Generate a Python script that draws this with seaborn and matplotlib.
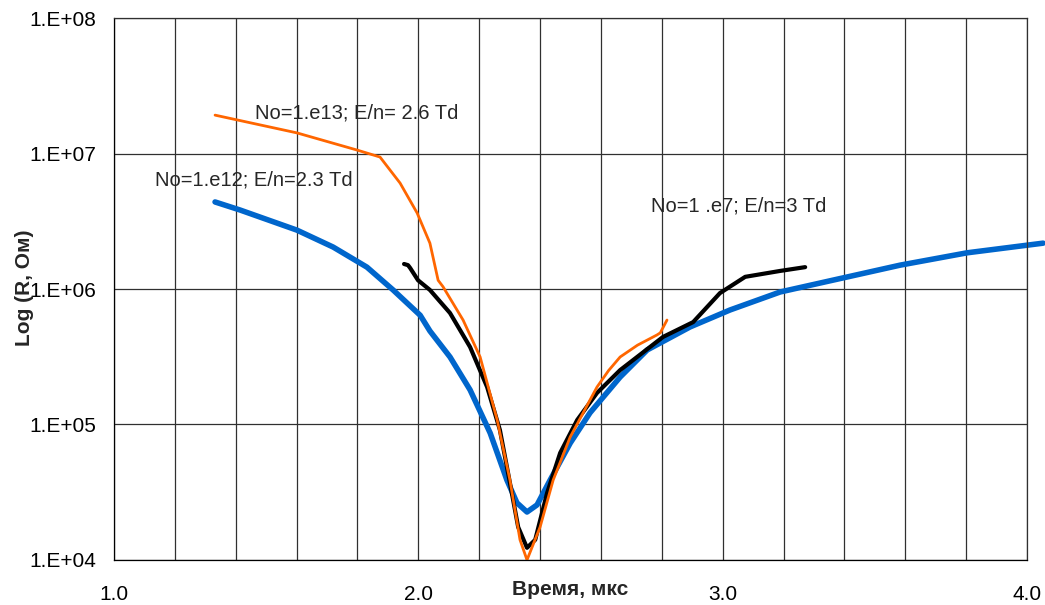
import numpy as np
import pandas as pd
import matplotlib
matplotlib.use("Agg")
import matplotlib.pyplot as plt
import matplotlib.ticker as mticker
import seaborn as sns

# --- data (time in мкс, resistance in Ом) ---
t_blue = [1.332, 1.414, 1.601, 1.720, 1.831, 1.917, 2.006, 2.038, 2.104, 2.170, 2.236,
          2.291, 2.324, 2.357, 2.390, 2.433, 2.499, 2.564, 2.663, 2.752, 2.893, 3.024,
          3.189, 3.353, 3.583, 3.803, 4.053]
r_blue = [4.39e6, 3.83e6, 2.72e6, 2.04e6, 1.45e6, 9.84e5, 6.40e5, 4.90e5, 3.15e5, 1.80e5, 8.65e4,
          3.89e4, 2.64e4, 2.26e4, 2.55e4, 3.89e4, 7.29e4, 1.22e5, 2.24e5, 3.55e5, 5.25e5, 7.00e5,
          9.51e5, 1.15e6, 1.50e6, 1.85e6, 2.18e6]

t_orange = [1.332, 1.601, 1.799, 1.874, 1.940, 1.996, 2.038, 2.065, 2.081, 2.147, 2.203,
            2.259, 2.301, 2.334, 2.357, 2.400, 2.443, 2.499, 2.587, 2.625, 2.663, 2.720,
            2.784, 2.795, 2.817]
r_orange = [1.92e7, 1.42e7, 1.06e7, 9.42e6, 6.05e6, 3.64e6, 2.18e6, 1.16e6, 1.04e6, 5.90e5, 3.15e5,
            1.08e5, 3.89e4, 1.41e4, 1.00e4, 1.75e4, 3.89e4, 8.09e4, 1.89e5, 2.50e5, 3.15e5, 3.85e5,
            4.58e5, 4.75e5, 5.90e5]

t_black = [1.953, 1.966, 1.973, 1.999, 2.038, 2.104, 2.170, 2.226, 2.268, 2.301, 2.328,
           2.357, 2.384, 2.423, 2.466, 2.522, 2.587, 2.663, 2.804, 2.903, 2.991, 3.074,
           3.189, 3.271]
r_black = [1.53e6, 1.50e6, 1.43e6, 1.16e6, 9.84e5, 6.65e5, 3.73e5, 1.89e5, 9.10e4, 3.70e4, 1.75e4,
           1.23e4, 1.41e4, 3.12e4, 6.17e4, 1.08e5, 1.71e5, 2.52e5, 4.43e5, 5.70e5, 9.33e5, 1.23e6,
           1.36e6, 1.45e6]

labels = ["No=1.e12; E/n=2.3 Td", "No=1.e13; E/n= 2.6 Td", "No=1 .e7; E/n=3 Td"]
x_major = [1.0, 2.0, 3.0, 4.0]
y_major = [1e4, 1e5, 1e6, 1e7, 1e8]

sns.set_style("white")
plt.rcParams['font.family'] = ['Liberation Sans', 'DejaVu Sans']

fig = plt.figure(figsize=(10.45, 6.05), dpi=100)
ax = fig.add_axes([0.1091, 0.0744, 0.8737, 0.8958])

blue = pd.DataFrame({"t": t_blue, "r": r_blue})
orange = pd.DataFrame({"t": t_orange, "r": r_orange})
black = pd.DataFrame({"t": t_black, "r": r_black})

sns.lineplot(data=blue, x="t", y="r", ax=ax, color="#0066CC", lw=4.0, sort=False)
ax.lines[-1].set_clip_on(False)
ax.lines[-1].set_solid_joinstyle("round")
sns.lineplot(data=black, x="t", y="r", ax=ax, color="black", lw=3.0, sort=False)
ax.lines[-1].set_solid_joinstyle("round")
sns.lineplot(data=orange, x="t", y="r", ax=ax, color="#FF6600", lw=2.0, sort=False)
ax.lines[-1].set_solid_joinstyle("round")

ax.set_yscale("log")
ax.set_xlim(1.0, 4.0)
ax.set_ylim(1e4, 1e8)

ax.xaxis.set_major_locator(mticker.FixedLocator(x_major))
ax.xaxis.set_minor_locator(mticker.MultipleLocator(0.2))
ax.xaxis.set_major_formatter(mticker.FormatStrFormatter("%.1f"))
ax.yaxis.set_major_locator(mticker.FixedLocator(y_major))
ax.yaxis.set_minor_locator(mticker.NullLocator())
ax.yaxis.set_major_formatter(mticker.FuncFormatter(
    lambda v, p: "1.E+%02d" % int(round(np.log10(v)))))

ax.tick_params(axis="both", which="major", direction="out", length=6, width=1,
               color="black", labelsize=15, labelcolor="black")
ax.tick_params(axis="x", which="major", pad=12)
ax.tick_params(axis="y", which="major", pad=7)
ax.tick_params(axis="x", which="minor", length=0)

ax.grid(True, axis="x", which="both", color="#303030", lw=0.9)
ax.grid(True, axis="y", which="major", color="#303030", lw=0.9)
ax.set_axisbelow(True)
for s in ax.spines.values():
    s.set_color("#303030")
    s.set_linewidth(0.9)
ax.spines["left"].set_color("black")
ax.spines["bottom"].set_color("black")

ax.set_xlabel("Время, мкс", fontsize=15, fontweight="bold")
ax.xaxis.set_label_coords(0.5, -0.037)
ax.set_ylabel("Log (R, Ом)", fontsize=15, fontweight="bold")
ax.yaxis.set_label_coords(-0.088, 0.502)

ax.text(1.135, 6.4e6, labels[0], fontsize=14.5, va="center", ha="left")
ax.text(1.463, 2.0e7, labels[1], fontsize=14.5, va="center", ha="left")
ax.text(2.765, 4.1e6, labels[2], fontsize=14.5, va="center", ha="left")

fig.savefig("out.png", dpi=100)
